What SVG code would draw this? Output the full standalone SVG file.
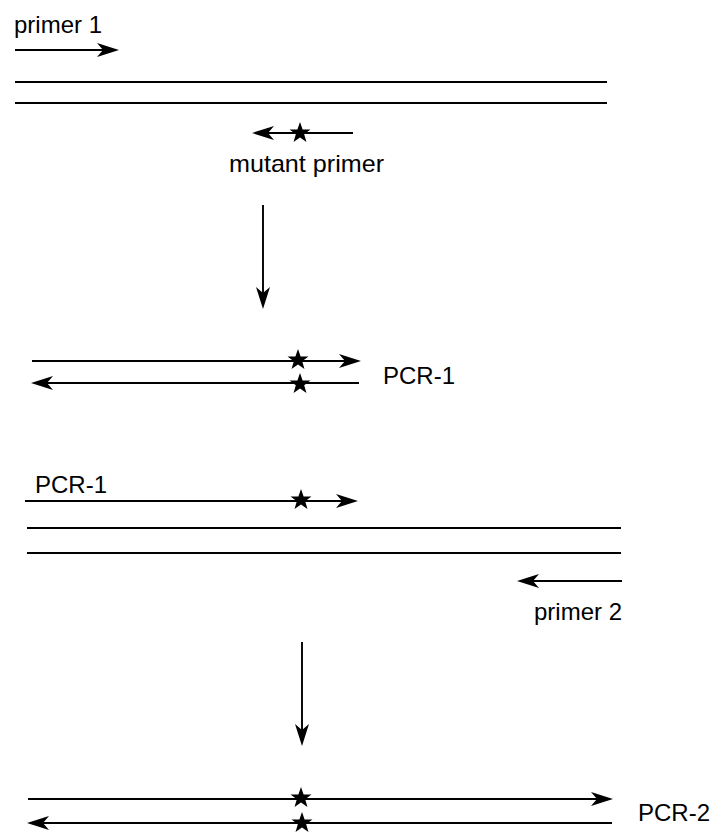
<svg xmlns="http://www.w3.org/2000/svg" width="715" height="832" viewBox="0 0 715 832">
<style>
.ln{stroke:#000;stroke-width:1.9;fill:none}
.ar{stroke:#000;stroke-width:1.9;fill:none;marker-end:url(#ah)}
.tx{font-family:"Liberation Sans",Arial,sans-serif;font-size:24px;fill:#000}
</style>
<defs>
<marker id="ah" markerUnits="userSpaceOnUse" markerWidth="24" markerHeight="18" viewBox="0 0 24 18" refX="11" refY="9" orient="auto">
<path d="M0,2 L22,9 L0,16 L6,9 Z" fill="#000"/>
</marker>
<path id="star" d="M0,-11 L2.6,-3.56 L10.46,-3.4 L4.18,1.36 L6.47,8.9 L0,4.4 L-6.47,8.9 L-4.18,1.36 L-10.46,-3.4 L-2.6,-3.56 Z" fill="#000"/>
</defs>
<rect width="715" height="832" fill="#fff"/>
<g id="dna1">
<line class="ln" x1="15" y1="82" x2="607" y2="82"/>
<line class="ln" x1="15" y1="103" x2="607" y2="103"/>
</g>
<g id="primer1">
<text class="tx" x="14" y="33">primer 1</text>
</g>
<g id="mutant-primer">
<use href="#star" x="300" y="133"/>
<text class="tx" x="229" y="172" textLength="155" lengthAdjust="spacingAndGlyphs">mutant primer</text>
</g>
<g id="pcr1-product">
<use href="#star" x="298" y="360"/>
<use href="#star" x="300" y="384"/>
<text class="tx" x="383" y="384">PCR-1</text>
</g>
<g id="pcr1-primer">
<use href="#star" x="301" y="500"/>
<text class="tx" x="35" y="493">PCR-1</text>
</g>
<g id="dna2">
<line class="ln" x1="27" y1="528" x2="621" y2="528"/>
<line class="ln" x1="27" y1="553" x2="621" y2="553"/>
</g>
<g id="primer2">
<text class="tx" x="534" y="620">primer 2</text>
</g>
<g id="pcr2-product">
<use href="#star" x="301" y="798"/>
<use href="#star" x="302" y="823"/>
<text class="tx" x="638" y="821">PCR-2</text>
</g>
<g id="connectors">
<line class="ar" x1="15" y1="50" x2="108" y2="50"/>
<line class="ar" x1="353" y1="133" x2="263" y2="133"/>
<line class="ar" x1="263" y1="205" x2="263" y2="298"/>
<line class="ar" x1="32" y1="361" x2="350" y2="361"/>
<line class="ar" x1="359" y1="383" x2="42" y2="383"/>
<line class="ar" x1="25" y1="501" x2="347" y2="501"/>
<line class="ar" x1="622" y1="581" x2="528" y2="581"/>
<line class="ar" x1="302" y1="642" x2="302" y2="735"/>
<line class="ar" x1="28" y1="799" x2="602" y2="799"/>
<line class="ar" x1="612" y1="823" x2="38" y2="823"/>
</g>
</svg>
